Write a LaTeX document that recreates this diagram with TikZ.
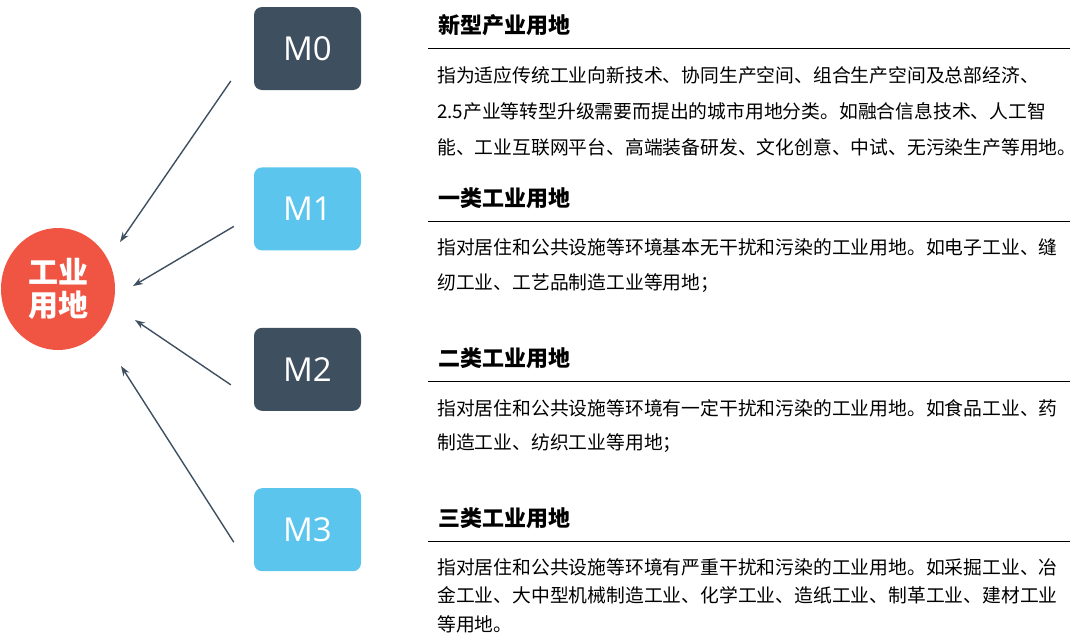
\documentclass[tikz,border=0pt]{standalone}
\usepackage{fontspec}
\setmainfont{Noto Sans CJK SC}
\newfontfamily\latinsans{Open Sans}
\usepackage{tikz}
\usetikzlibrary{positioning,calc,shapes.geometric,arrows.meta}
\definecolor{slate}{HTML}{3E5060}
\definecolor{sky}{HTML}{5BC5EE}
\definecolor{tomato}{HTML}{F05442}

\begin{document}
\begin{tikzpicture}[x=1pt,y=-1pt,
  mbox/.style={rectangle,rounded corners=8pt,minimum width=107pt,minimum height=83pt,
    text=white,font=\latinsans\fontsize{33}{33}\selectfont},
  hdr/.style={anchor=west,inner sep=0,font=\bfseries\fontsize{22}{22}\selectfont},
  body/.style={anchor=north west,inner sep=0,align=left,font=\fontsize{18.8}{#1}\selectfont},
  feed/.style={draw=slate,line width=1.4pt,-{Stealth[length=10pt,width=7pt]}}]
  \useasboundingbox (0,0) rectangle (1078,643);
  % the land class in the middle left
  \node[ellipse,fill=tomato,minimum width=114pt,minimum height=122pt,inner sep=0,
    text=white,align=center,font=\bfseries\fontsize{30}{33}\selectfont](land) at (58,289) {工业\\用地};
  \node[mbox,fill=slate](M0) at (307.5,48.5) {M0};
  \node[mbox,fill=sky,below=77pt of M0](M1) {M1};
  \node[mbox,fill=slate,below=77pt of M1](M2) {M2};
  \node[mbox,fill=sky,below=77pt of M2](M3) {M3};
  \foreach \i/\tx/\ty/\hx/\hy in {0/-23/32.5/62/-47, 1/-20/17.5/75/-3, 2/-23/15.5/77/31, 3/-20/12.5/63/77} {
    \coordinate (tail\i) at ($(M\i.west)+(\tx,\ty)$);
    \coordinate (tip\i) at ($(land.center)+(\hx,\hy)$);
    \draw[feed] (tail\i) -- (tip\i);
  }
  % headings, rules and texts on the right
  \node[hdr](hd0) at (438,25) {新型产业用地};
  \node[hdr](hd1) at (438,198) {一类工业用地};
  \node[hdr](hd2) at (438,358) {二类工业用地};
  \node[hdr](hd3) at (438,518) {三类工业用地};
  \foreach \i in {0,...,3} {
    \draw[line width=1.2pt] ($(hd\i.west)+(-10,23.5)$) -- +(642,0);
  }
  \node[body=36](tx0) at (437,66) {指为适应传统工业向新技术、协同生产空间、组合生产空间及总部经济、\\
    2.5产业等转型升级需要而提出的城市用地分类。如融合信息技术、人工智\\
    能、工业互联网平台、高端装备研发、文化创意、中试、无污染生产等用地。};
  \node[body=34.5](tx1) at (437,238.5) {指对居住和公共设施等环境基本无干扰和污染的工业用地。如电子工业、缝\\
    纫工业、工艺品制造工业等用地；};
  \node[body=34](tx2) at (437,399) {指对居住和公共设施等环境有一定干扰和污染的工业用地。如食品工业、药\\
    制造工业、纺织工业等用地；};
  \node[body=28.5](tx3) at (437,558) {指对居住和公共设施等环境有严重干扰和污染的工业用地。如采掘工业、冶\\
    金工业、大中型机械制造工业、化学工业、造纸工业、制革工业、建材工业\\
    等用地。};
\end{tikzpicture}
\end{document}
